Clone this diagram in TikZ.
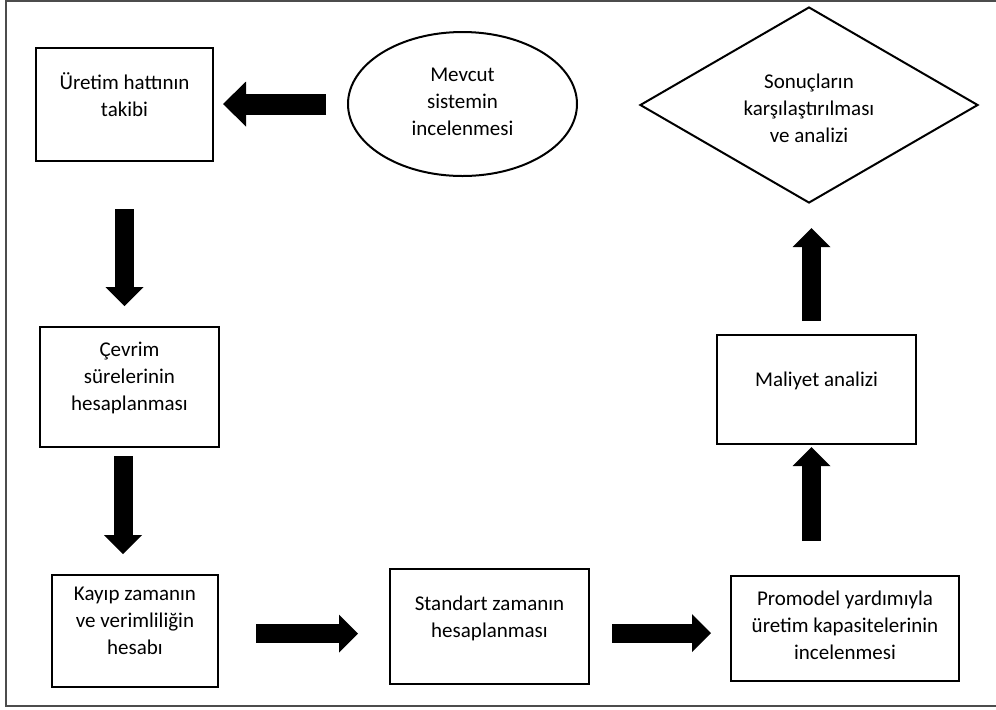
\documentclass[tikz,border=0pt]{standalone}
\usepackage{fontspec}
\setmainfont{Carlito}
\usetikzlibrary{arrows.meta,shapes.geometric}

\begin{document}
\begin{tikzpicture}[
  x=0.5pt, y=-0.5pt,
  kutu/.style={rectangle, draw=black, line width=1pt, inner sep=0pt},
  yazi/.style={align=center, inner sep=0pt, font=\fontsize{10.5}{13.5}\selectfont},
  ok/.style={line width=9.5pt, -{Triangle[length=9.5pt, width=19pt, line width=0pt]}}
]

  % Sayfa ve dış çerçeve
  \useasboundingbox (0,0) rectangle (996,709);
  \draw[draw=black!70, line width=1pt] (6,1) rectangle (1002,706);

  % Kutular (metin üst tarafta durdugu icin ayri dugum)
  \node[kutu, minimum width=88.5pt, minimum height=56.5pt] (takip) at (124.5,104.5) {};
  \node[yazi] (takiptxt) at (124.5,95) {Üretim hattının\\takibi};

  \node[ellipse, draw=black, line width=1pt, minimum width=114.5pt, minimum height=72pt, inner sep=0pt] (mevcut) at (462.5,104) {};
  \node[yazi] (mevcuttxt) at (462.5,102) {Mevcut\\sistemin\\incelenmesi};

  \node[diamond, draw=black, line width=1pt, minimum width=169pt, minimum height=98pt, inner sep=0pt] (sonuc) at (809,105) {};
  \node[yazi] (sonuctxt) at (809,108) {Sonuçların\\karşılaştırılması\\ve analizi};

  \node[kutu, minimum width=89.5pt, minimum height=60pt] (cevrim) at (129.5,387) {};
  \node[yazi] (cevrimtxt) at (129.5,378) {Çevrim\\sürelerinin\\hesaplanması};

  \node[kutu, minimum width=83pt, minimum height=56pt] (kayip) at (135,631) {};
  \node[yazi] (kayiptxt) at (135,621) {Kayıp zamanın\\ve verimliliğin\\hesabı};

  \node[kutu, minimum width=99.5pt, minimum height=57.5pt] (standart) at (489.5,626.5) {};
  \node[yazi] (standarttxt) at (489.5,618) {Standart zamanın\\hesaplanması};

  \node[kutu, minimum width=114pt, minimum height=52.5pt] (promodel) at (845,628.5) {};
  \node[yazi] (promodeltxt) at (845,625) {Promodel yardımıyla\\üretim kapasitelerinin\\incelenmesi};

  \node[kutu, minimum width=99.5pt, minimum height=54.5pt] (maliyet) at (816.5,389.5) {};
  \node[yazi] (maliyettxt) at (816.5,381) {Maliyet analizi};

  % Blok oklar
  \draw[ok, line width=10.5pt, -{Triangle[length=11.5pt, width=22.5pt, line width=0pt]},
        shorten <=10.5pt, shorten >=4.5pt] (mevcut.west) -- (mevcut.west -| takip.east);
  \draw[ok, shorten <=23.5pt, shorten >=10pt] (takip.south) -- (takip.south |- cevrim.north);
  \draw[ok, shorten <=4pt, shorten >=10pt]
    ([xshift=-3.25pt]cevrim.south) -- ([xshift=-3.25pt]cevrim.south |- kayip.north);
  \draw[ok, shorten <=18.5pt, shorten >=15.5pt]
    ([yshift=-1.25pt]kayip.east) -- ([yshift=-1.25pt]kayip.east -| standart.west);
  \draw[ok, shorten <=11pt, shorten >=9.5pt]
    ([yshift=-3.25pt]standart.east) -- ([yshift=-3.25pt]standart.east -| promodel.west);
  \draw[ok, shorten <=17pt, shorten >=1pt]
    ([xshift=-2.5pt]maliyet.south |- promodel.north) -- ([xshift=-2.5pt]maliyet.south);
  \draw[ok, shorten <=6.5pt, shorten >=12pt]
    ([xshift=-2.5pt]maliyet.north) -- ([xshift=-2.5pt]maliyet.north |- sonuc.south);

\end{tikzpicture}
\end{document}
